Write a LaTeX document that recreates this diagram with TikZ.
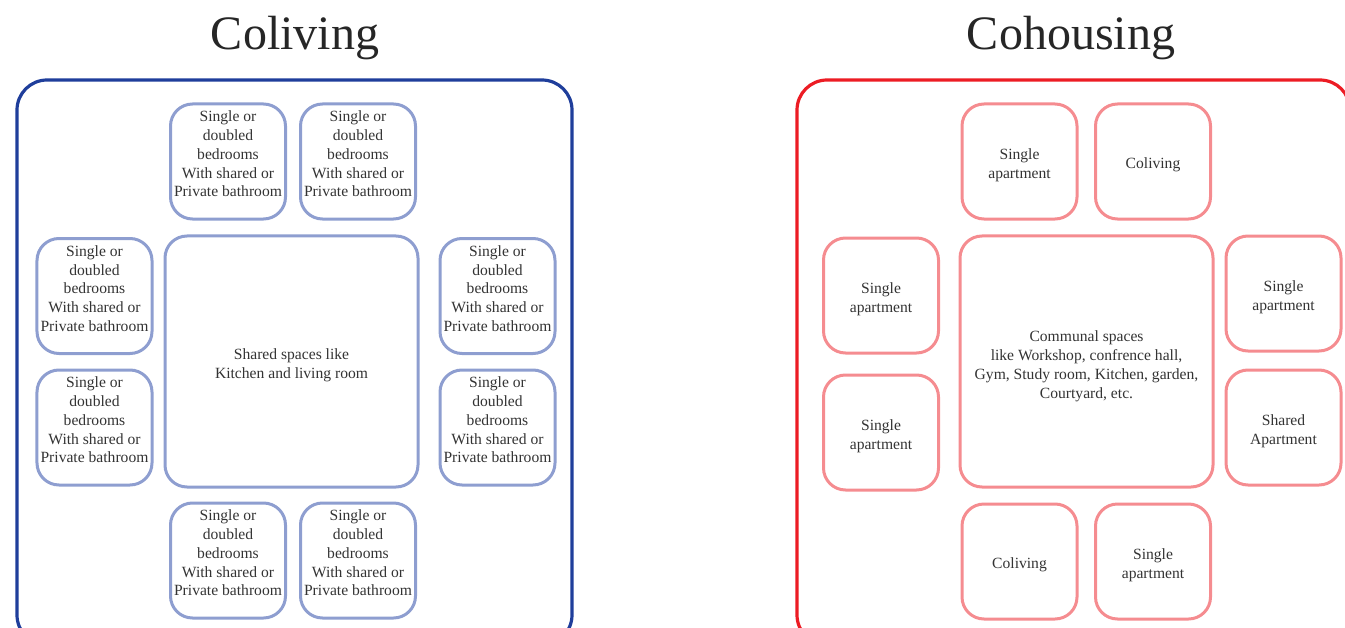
\documentclass[tikz,border=0pt]{standalone}
\usepackage{fontspec}
\setmainfont{Liberation Serif}
\definecolor{outerblue}{HTML}{1F3E9B}
\definecolor{innerblue}{HTML}{8E9ED0}
\definecolor{outerred}{HTML}{EC1C24}
\definecolor{innerred}{HTML}{F58C90}
\definecolor{txt}{HTML}{333333}
\tikzset{
  outerbox/.style={line width=3.2bp, rounded corners=30bp},
  smallbox/.style={draw, line width=3bp, rounded corners=22bp, minimum width=115bp, minimum height=115bp, inner sep=0pt},
  bigbox/.style={draw, line width=3bp, rounded corners=22bp, minimum width=253bp, minimum height=251bp, inner sep=0pt},
  bluebox/.style={draw=innerblue},
  redbox/.style={draw=innerred},
  boxtext/.style={align=center, text=txt, font=\fontsize{15.6bp}{18.8bp}\selectfont, inner sep=0pt},
  title/.style={text=black!85, font=\fontsize{48bp}{54bp}\selectfont, inner sep=0pt}
}
\begin{document}
\begin{tikzpicture}[x=1bp,y=-1bp]
\useasboundingbox (0,0) rectangle (1345,628);
\clip (0,0) rectangle (1345,628);
% titles
\node[title] (t1) at (295,38) {Coliving};
\node[title] (t2) at (1071,38) {Cohousing};
% outer frames
\draw[outerbox, draw=outerblue] (17,80) rectangle (572,645);
\draw[outerbox, draw=outerred] (797,80) rectangle (1350,645);
% ---- Coliving ----
\def\bed{Single or\\doubled\\bedrooms\\With shared or\\Private bathroom}
\foreach \n/\x/\y in {a/228/161.5, b/358/161.5, c/94.5/296, d/94.5/427.5, e/497.5/296, f/497.5/427.5, g/228/560.5, h/358/560.5}{
  \node[smallbox, bluebox] (L\n) at (\x,\y) {};
  \node[boxtext] (L\n t) at ([yshift=7.5bp]L\n.center) {\bed};
}
\node[bigbox, bluebox] (Lc) at (291.5,361.5) {};
\node[boxtext] (Lct) at ([yshift=-4bp]Lc.center) {Shared spaces like\\Kitchen and living room};
% ---- Cohousing ----
\tikzset{rt/.style={boxtext, yshift=-3.5bp}}
\node[smallbox, redbox] (Ra) at (1019.5,161.5) {};
\node[rt] (Rat) at (Ra.center) {Single\\apartment};
\node[smallbox, redbox] (Rb) at (1153,161.5) {};
\node[rt] (Rbt) at (Rb.center) {Coliving};
\node[smallbox, redbox] (Rc) at (881,295.5) {};
\node[rt] (Rct) at (Rc.center) {Single\\apartment};
\node[smallbox, redbox] (Rd) at (881,432.5) {};
\node[rt] (Rdt) at (Rd.center) {Single\\apartment};
\node[smallbox, redbox] (Re) at (1283.5,293.5) {};
\node[rt] (Ret) at (Re.center) {Single\\apartment};
\node[smallbox, redbox] (Rf) at (1283.5,427.5) {};
\node[rt] (Rft) at (Rf.center) {Shared\\Apartment};
\node[smallbox, redbox] (Rg) at (1019.5,561.5) {};
\node[rt] (Rgt) at (Rg.center) {Coliving};
\node[smallbox, redbox] (Rh) at (1153,561.5) {};
\node[rt] (Rht) at (Rh.center) {Single\\apartment};
\node[bigbox, redbox] (Rcen) at (1086.5,361.5) {};
\node[boxtext, font=\fontsize{15.6bp}{19bp}\selectfont] (Rcent) at ([yshift=-4.5bp]Rcen.center) {Communal spaces\\like Workshop, confrence hall,\\Gym, Study room, Kitchen, garden,\\Courtyard, etc.};
\end{tikzpicture}
\end{document}
